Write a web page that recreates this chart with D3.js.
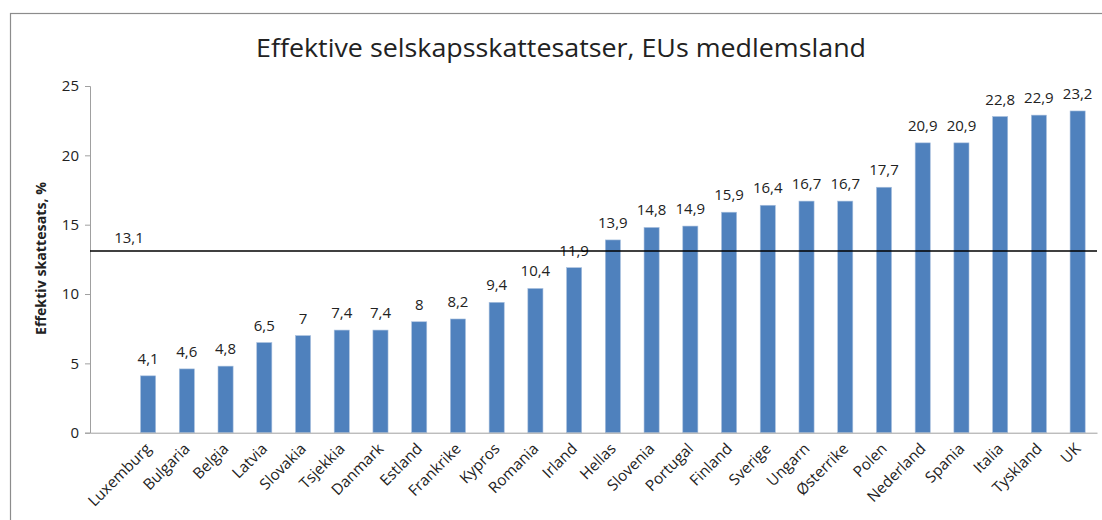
<!DOCTYPE html>
<html><head><meta charset="utf-8">
<script src="https://cdn.jsdelivr.net/npm/d3@7"></script>
<style>body{margin:0;background:#fff}text{font-family:"Open Sans",sans-serif;fill:#222}</style>
</head><body><svg id="c" width="1102" height="520"></svg>
<script>
const categories = ["", "Luxemburg","Bulgaria","Belgia","Latvia","Slovakia","Tsjekkia","Danmark","Estland","Frankrike","Kypros","Romania","Irland","Hellas","Slovenia","Portugal","Finland","Sverige","Ungarn","Østerrike","Polen","Nederland","Spania","Italia","Tyskland","UK"];
const values = [null, 4.1,4.6,4.8,6.5,7,7.4,7.4,8,8.2,9.4,10.4,11.9,13.9,14.8,14.9,15.9,16.4,16.7,16.7,17.7,20.9,20.9,22.8,22.9,23.2];
const average = 13.1;
const yTicks = [0,5,10,15,20,25];
const title = "Effektive selskapsskattesatser, EUs medlemsland";
const yTitle = "Effektiv skattesats, %";
const fmt = v => String(v).replace(".", ",");

const svg = d3.select("#c");
svg.append("rect").attr("x",10.5).attr("y",13.5).attr("width",1100).attr("height",520)
  .attr("fill","none").attr("stroke","#8c8c8c").attr("stroke-width",1.2);

const L=90, R=1097, T=86, B=432.7;
const x = d3.scaleBand().domain(categories.map((d,i)=>i)).range([L,R]).paddingInner(0.61).paddingOuter(0.305);
const y = d3.scaleLinear().domain([0,25]).range([B,T]);

svg.append("text").attr("x",561).attr("y",57).attr("text-anchor","middle")
  .attr("font-size",25).attr("textLength",610).attr("lengthAdjust","spacingAndGlyphs").text(title);

const ya = svg.append("g").attr("transform",`translate(${L},0)`)
  .call(d3.axisLeft(y).tickValues(yTicks).tickSize(5).tickPadding(6).tickFormat(fmt));
ya.select(".domain").attr("stroke","#a0a0a0");
ya.selectAll(".tick line").attr("stroke","#a0a0a0");
ya.selectAll("text").attr("font-size",15).attr("fill","#222").style("font-family",'"Open Sans",sans-serif');

svg.append("text").attr("transform",`translate(46,258.5) rotate(-90)`).attr("text-anchor","middle")
  .attr("font-size",13.5).attr("font-weight","bold")
  .attr("textLength",153).attr("lengthAdjust","spacingAndGlyphs").text(yTitle);

const data = categories.map((c,i)=>({i,c,v:values[i]})).filter(d=>d.v!=null);
svg.append("g").selectAll("rect").data(data).join("rect")
  .attr("x",d=>x(d.i)).attr("width",x.bandwidth())
  .attr("y",d=>y(d.v)).attr("height",d=>B-y(d.v))
  .attr("fill","#4f81bd").attr("stroke","#a9c0de").attr("stroke-width",0.6);

svg.append("g").selectAll("text").data(data).join("text")
  .attr("x",d=>x(d.i)+x.bandwidth()/2).attr("y",d=>y(d.v)-12)
  .attr("text-anchor","middle").attr("font-size",15).text(d=>fmt(d.v));

const xa = svg.append("g").attr("transform",`translate(0,${B})`)
  .call(d3.axisBottom(x).tickSize(0).tickFormat(i=>categories[i]));
xa.select(".domain").attr("stroke","#a0a0a0");
xa.selectAll("text").attr("font-size",15.3).attr("fill","#222").style("font-family",'"Open Sans",sans-serif')
  .attr("text-anchor","end").attr("dy",0).attr("y",0)
  .attr("transform","translate(4,17) rotate(-45)");

svg.append("line").attr("x1",L).attr("x2",R).attr("y1",y(average)).attr("y2",y(average))
  .attr("stroke","#000").attr("stroke-width",1.5);
svg.append("text").attr("x",129).attr("y",y(average)-8)
  .attr("text-anchor","middle").attr("font-size",15).text(fmt(average));
</script></body></html>
